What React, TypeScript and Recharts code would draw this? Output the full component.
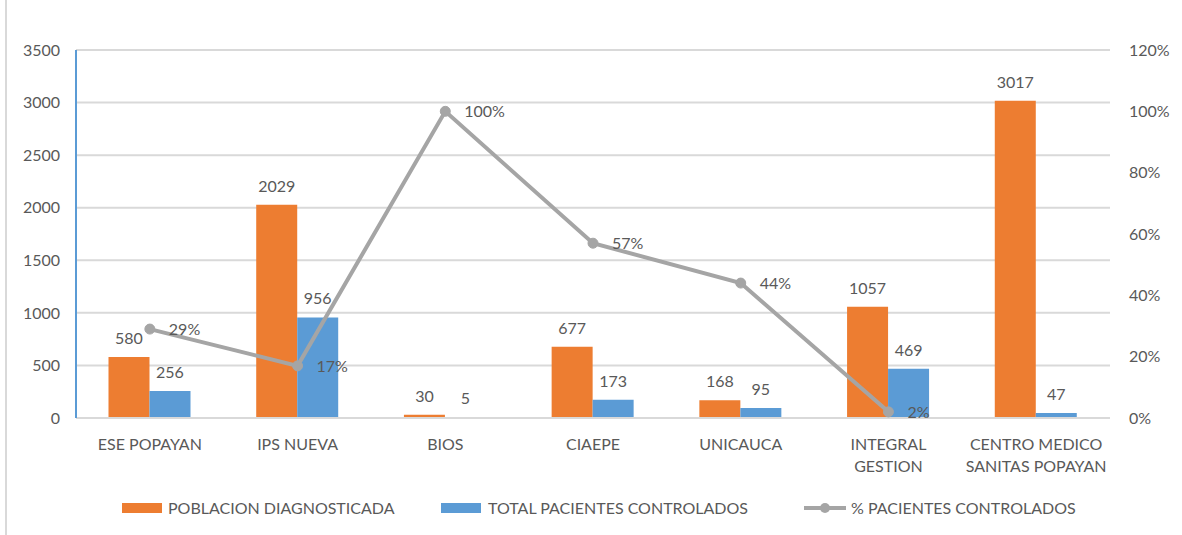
import {
  ComposedChart,
  Bar,
  Line,
  XAxis,
  YAxis,
  CartesianGrid,
  LabelList,
} from "recharts";

const categories = [
  "ESE POPAYAN",
  "IPS NUEVA",
  "BIOS",
  "CIAEPE",
  "UNICAUCA",
  "INTEGRAL GESTION",
  "CENTRO MEDICO SANITAS POPAYAN",
];
const diagnosticada = [580, 2029, 30, 677, 168, 1057, 3017];
const controlados = [256, 956, 5, 173, 95, 469, 47];
const pctControlados = [0.29, 0.17, 1.0, 0.57, 0.44, 0.02, null];
const leftTicks = [0, 500, 1000, 1500, 2000, 2500, 3000, 3500];
const rightTicks = [0, 0.2, 0.4, 0.6, 0.8, 1.0, 1.2];

// tick labels that wrap onto two lines
const tickLines: Record<string, string[]> = {
  "INTEGRAL GESTION": ["INTEGRAL", "GESTION"],
  "CENTRO MEDICO SANITAS POPAYAN": ["CENTRO MEDICO", "SANITAS POPAYAN"],
};

const data = categories.map((name, i) => ({
  name,
  diag: diagnosticada[i],
  ctrl: controlados[i],
  pct: pctControlados[i],
}));

const FONT = "Lato, 'Open Sans', sans-serif";
const TEXT = "#595959";
const ORANGE = "#ED7D31";
const BLUE = "#5B9BD5";
const GRAY = "#A5A5A5";

function CategoryTick({ x, y, payload }: any) {
  const lines = tickLines[payload.value] ?? [payload.value];
  return (
    <text x={x} y={y} textAnchor="middle" fill={TEXT} fontSize={16} fontFamily={FONT}>
      {lines.map((l, i) => (
        <tspan key={i} x={x} dy={i === 0 ? 24 : 22}>
          {l}
        </tspan>
      ))}
    </text>
  );
}

const pctFmt = (v: any) => (v == null ? "" : `${Math.round(v * 100)}%`);

export default function App() {
  return (
    <div
      style={{
        position: "absolute",
        left: 0,
        top: 0,
        width: 1182,
        height: 535,
        background: "#fff",
        fontFamily: FONT,
      }}
    >
      <div
        style={{
          position: "absolute",
          left: 5,
          top: 0,
          width: 2,
          height: 535,
          background: "#d9d9d9",
        }}
      />
      <ComposedChart
        width={1182}
        height={535}
        data={data}
        margin={{ top: 50, right: 0, bottom: 57, left: 0 }}
        barCategoryGap="22%"
        barGap={0}
      >
        <CartesianGrid stroke="#d9d9d9" strokeWidth={2} vertical={false} yAxisId="left" />
        <XAxis
          dataKey="name"
          tick={<CategoryTick />}
          tickLine={false}
          axisLine={{ stroke: "#d9d9d9", strokeWidth: 2 }}
          height={60}
          interval={0}
        />
        <YAxis
          yAxisId="left"
          width={76}
          domain={[0, 3500]}
          ticks={leftTicks}
          tickLine={false}
          tickSize={0}
          tickMargin={16}
          axisLine={{ stroke: BLUE, strokeWidth: 2 }}
          tick={{ fill: TEXT, fontSize: 16, fontFamily: FONT }}
        />
        <YAxis
          yAxisId="right"
          orientation="right"
          width={72}
          domain={[0, 1.2]}
          ticks={rightTicks}
          tickFormatter={pctFmt}
          tickLine={false}
          tickSize={0}
          tickMargin={19}
          axisLine={false}
          tick={{ fill: TEXT, fontSize: 16, fontFamily: FONT, textAnchor: "start" }}
        />
        <Bar yAxisId="left" dataKey="diag" fill={ORANGE} isAnimationActive={false}>
          <LabelList
            dataKey="diag"
            position="top"
            offset={13}
            fill={TEXT}
            fontSize={16}
            fontFamily={FONT}
          />
        </Bar>
        <Bar yAxisId="left" dataKey="ctrl" fill={BLUE} isAnimationActive={false}>
          <LabelList
            dataKey="ctrl"
            position="top"
            offset={13}
            fill={TEXT}
            fontSize={16}
            fontFamily={FONT}
          />
        </Bar>
        <Line
          yAxisId="right"
          dataKey="pct"
          stroke={GRAY}
          strokeWidth={4}
          dot={{ r: 5, fill: GRAY, stroke: GRAY, strokeWidth: 1 }}
          isAnimationActive={false}
        >
          <LabelList
            dataKey="pct"
            position="right"
            offset={19}
            formatter={pctFmt}
            fill={TEXT}
            fontSize={16}
            fontFamily={FONT}
          />
        </Line>
      </ComposedChart>

      {/* legend */}
      <div
        style={{
          position: "absolute",
          top: 497,
          left: 0,
          width: 1182,
          height: 22,
          fontSize: 16,
          color: TEXT,
        }}
      >
        <div style={{ position: "absolute", left: 122, top: 6, width: 40, height: 10, background: ORANGE }} />
        <span style={{ position: "absolute", left: 168, top: 1, whiteSpace: "nowrap" }}>
          POBLACION DIAGNOSTICADA
        </span>
        <div style={{ position: "absolute", left: 441, top: 6, width: 40, height: 10, background: BLUE }} />
        <span style={{ position: "absolute", left: 488, top: 1, whiteSpace: "nowrap" }}>
          TOTAL PACIENTES CONTROLADOS
        </span>
        <svg style={{ position: "absolute", left: 804, top: 1 }} width={42} height={20}>
          <line x1={0} y1={10} x2={42} y2={10} stroke={GRAY} strokeWidth={4} />
          <circle cx={21} cy={10} r={5} fill={GRAY} />
        </svg>
        <span style={{ position: "absolute", left: 851, top: 1, whiteSpace: "nowrap" }}>
          % PACIENTES CONTROLADOS
        </span>
      </div>
    </div>
  );
}
